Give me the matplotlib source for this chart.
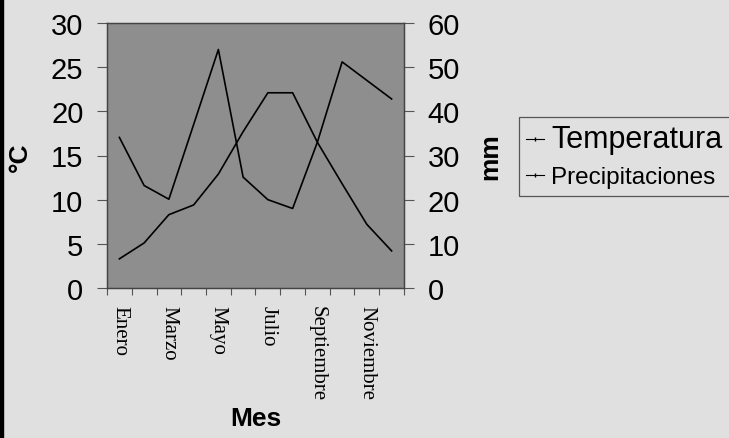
import matplotlib
matplotlib.use('Agg')
import matplotlib.pyplot as plt
from matplotlib.lines import Line2D

# climograma - temperatura y precipitaciones por mes
meses = ['Enero', 'Febrero', 'Marzo', 'Abril', 'Mayo', 'Junio',
         'Julio', 'Agosto', 'Septiembre', 'Octubre', 'Noviembre', 'Diciembre']
etiquetas = ['Enero', '', 'Marzo', '', 'Mayo', '', 'Julio', '',
             'Septiembre', '', 'Noviembre', '']
temperatura = [3.3, 5.1, 8.3, 9.4, 12.9, 17.7, 22.1, 22.1, 16.5, 11.8, 7.2, 4.2]
precipitaciones = [34.1, 23.2, 20.1, 37.0, 54.0, 25.1, 20.0, 18.0, 33.0, 51.2, 47.0, 42.8]

plt.rcParams['font.family'] = ['Liberation Sans', 'DejaVu Sans']

fig = plt.figure(figsize=(7.29, 4.39), dpi=100)
fig.patch.set_facecolor('#e0e0e0')

ax = fig.add_axes([107/729, 1 - 289/439, 297/729, 265/439])
ax.set_facecolor('#8e8e8e')
x = list(range(len(meses)))

l1, = ax.plot(x, temperatura, color='black', lw=1.2)
ax.set_ylim(0, 30)
ax.set_yticks([0, 5, 10, 15, 20, 25, 30])
ax.set_xlim(-0.5, 11.5)

ax2 = ax.twinx()
l2, = ax2.plot(x, precipitaciones, color='black', lw=1.2)
ax2.set_ylim(0, 60)
ax2.set_yticks([0, 10, 20, 30, 40, 50, 60])

# month labels at centers, tick marks at boundaries
ax.set_xticks(x)
ax.set_xticklabels(etiquetas, rotation=-90, family='Liberation Serif', fontsize=15)
ax.tick_params(axis='x', length=0, pad=12)
ax.set_xticks([i - 0.5 for i in range(13)], minor=True)
ax.tick_params(axis='x', which='minor', length=5, width=0.8, color='#555555')

ax.tick_params(axis='y', labelsize=21, length=7, width=0.8, color='#555555', pad=10)
ax2.tick_params(axis='y', labelsize=21, length=7, width=0.8, color='#555555', pad=10)

for a in (ax, ax2):
    for s in a.spines.values():
        s.set_color('#444444')
        s.set_linewidth(0.9)

fig.text(20/729, 1 - 157/439, '°C', rotation=90, fontsize=19, fontweight='bold',
         ha='center', va='center')
fig.text(490/729, 1 - 157/439, 'mm', rotation=90, fontsize=19, fontweight='bold',
         ha='center', va='center')
fig.text(256/729, 1 - 419/439, 'Mes', fontsize=19, fontweight='bold',
         ha='center', va='center')

handles = [Line2D([], [], color='black', lw=0.8, marker='|', markersize=3),
           Line2D([], [], color='black', lw=0.8, marker='|', markersize=3)]
leg = fig.legend(handles, ['Temperatura', 'Precipitaciones'], loc='upper left',
                 bbox_to_anchor=(519/729, 1 - 118/439), frameon=True,
                 fancybox=False, fontsize=17.5, handlelength=0.74,
                 handletextpad=0.29, borderpad=0.3, labelspacing=0.5,
                 borderaxespad=0)
leg.get_frame().set_edgecolor('#333333')
leg.get_frame().set_facecolor('#e0e0e0')
leg.get_frame().set_linewidth(0.9)
leg.get_texts()[0].set_fontsize(22)

# black strip from the scan at the left edge
fig.patches.append(plt.Rectangle((0, 0), 3/729, 1, transform=fig.transFigure,
                                 color='black', zorder=10))

fig.savefig('out.png', dpi=100, facecolor=fig.get_facecolor())
